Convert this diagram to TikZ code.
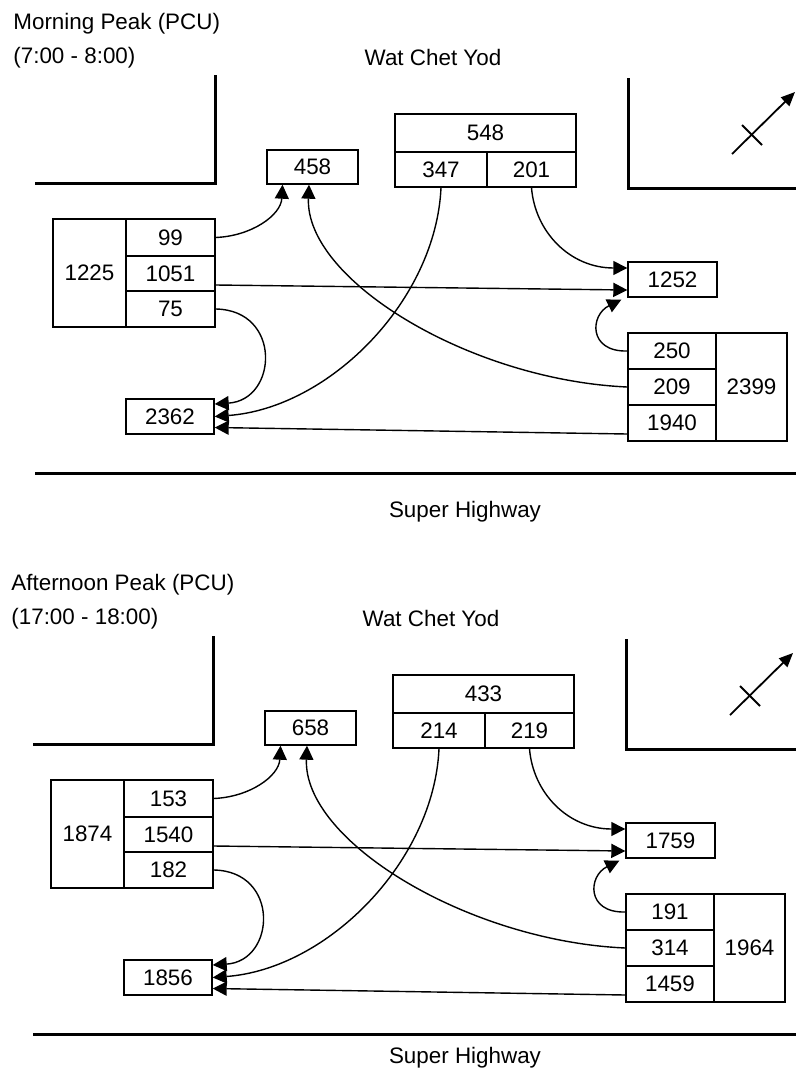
\documentclass[tikz,border=0pt]{standalone}
\usepackage{fontspec}
\setmainfont{Liberation Sans}
\usetikzlibrary{arrows.meta}
\begin{document}
\begin{tikzpicture}[x=0.5pt,y=-0.5pt,
  cell/.style={draw, line width=0.7pt, inner sep=0pt, font=\fontsize{11.2}{13}\selectfont},
  wh/.style 2 args={minimum width=#1*0.5pt, minimum height=#2*0.5pt},
  flow/.style={line width=0.7pt, -{Triangle[length=7pt,width=7pt]}},
  road/.style={line width=1.5pt},
  northarrow/.style={line width=0.9pt},
  lbl/.style={inner sep=0pt, font=\fontsize{11.2}{13}\selectfont}]
\useasboundingbox (0,0) rectangle (796,1082);

% ---------------- Morning peak ----------------
\node[lbl, anchor=base west] (t1) at (13,29) {Morning Peak (PCU)};
\node[lbl, anchor=base west] (h1) at (13,63) {(7:00 - 8:00)};
\node[lbl, anchor=base] (w1) at (433,65) {Wat Chet Yod};
\node[lbl, anchor=base] (s1) at (465,517) {Super Highway};

\draw[road] (35,183) -- (215,183) -- (215,75);
\draw[road] (628,78) -- (628,188) -- (796,188);
\draw[road] (35,473) -- (796,473);
\draw[northarrow, -{Triangle[length=7pt,width=6pt]}] (732,154) -- (795,92);
\draw[northarrow] (742,125) -- (762,145);

\node[cell, wh={91}{34}] (a458) at (312.5,167) {458};
\node[cell, wh={181}{38}] (a548) at (485.5,133) {548};
\node[cell, wh={92}{35}] (a347) at (441,169.5) {347};
\node[cell, wh={89}{35}] (a201) at (531.5,169.5) {201};
\node[cell, wh={89}{35}] (a1252) at (672.5,279.5) {1252};
\node[cell, wh={73}{108}] (a1225) at (89.5,273) {1225};
\node[cell, wh={89}{37}] (a99) at (170.5,237.5) {99};
\node[cell, wh={89}{35}] (a1051) at (170.5,273.5) {1051};
\node[cell, wh={89}{36}] (a75) at (170.5,309) {75};
\node[cell, wh={88}{35}] (a2362) at (170,416.5) {2362};
\node[cell, wh={88}{36}] (a250) at (672,351) {250};
\node[cell, wh={88}{36}] (a209) at (672,387) {209};
\node[cell, wh={88}{36}] (a1940) at (672,423) {1940};
\node[cell, wh={71}{108}] (a2399) at (751.5,387) {2399};

\draw[flow] (a99.east) .. controls (252,236) and (281,215) .. ([xshift=-15pt]a458.south);
\draw[flow] ([yshift=-5.75pt]a1051.east) -- ([yshift=-5.25pt]a1252.west);
\draw[flow] (a201.south) .. controls (535,232) and (570,268) .. ([yshift=5.75pt]a1252.west);
\draw[flow] (a347.south) .. controls (436,300) and (330,408) .. (a2362.east);
\draw[flow] (a75.east) .. controls (282,310) and (278,400) .. ([yshift=6.25pt]a2362.east);
\draw[flow] ([yshift=-5.5pt]a1940.west) -- ([yshift=-5.5pt]a2362.east);
\draw[flow] (a250.west) .. controls (588,352) and (590,315) .. ([xshift=-3pt,yshift=-1pt]a1252.south west);
\draw[flow] (a209.west) .. controls (470,380) and (305,280) .. ([xshift=-1.75pt]a458.south);

% ---------------- Afternoon peak ----------------
\begin{scope}[shift={(-2,561)}]
\node[lbl, anchor=base west] (t2) at (13,29) {Afternoon Peak (PCU)};
\node[lbl, anchor=base west] (h2) at (13,63) {(17:00 - 18:00)};
\node[lbl, anchor=base] (w2) at (433,65) {Wat Chet Yod};
\node[lbl, anchor=base] (s2) at (467,502) {Super Highway};

\draw[road] (35,183) -- (215,183) -- (215,75);
\draw[road] (628,78) -- (628,188) -- (798,188);
\draw[road] (35,473) -- (798,473);
\draw[northarrow, -{Triangle[length=7pt,width=6pt]}] (732,154) -- (795,92);
\draw[northarrow] (742,125) -- (762,145);

\node[cell, wh={91}{34}] (b658) at (312.5,167) {658};
\node[cell, wh={181}{38}] (b433) at (485.5,133) {433};
\node[cell, wh={92}{35}] (b214) at (441,169.5) {214};
\node[cell, wh={89}{35}] (b219) at (531.5,169.5) {219};
\node[cell, wh={89}{35}] (b1759) at (672.5,279.5) {1759};
\node[cell, wh={73}{108}] (b1874) at (89.5,273) {1874};
\node[cell, wh={89}{37}] (b153) at (170.5,237.5) {153};
\node[cell, wh={89}{35}] (b1540) at (170.5,273.5) {1540};
\node[cell, wh={89}{36}] (b182) at (170.5,309) {182};
\node[cell, wh={88}{35}] (b1856) at (170,416.5) {1856};
\node[cell, wh={88}{36}] (b191) at (672,351) {191};
\node[cell, wh={88}{36}] (b314) at (672,387) {314};
\node[cell, wh={88}{36}] (b1459) at (672,423) {1459};
\node[cell, wh={71}{108}] (b1964) at (751.5,387) {1964};

\draw[flow] (b153.east) .. controls (252,236) and (281,215) .. ([xshift=-15pt]b658.south);
\draw[flow] ([yshift=-5.75pt]b1540.east) -- ([yshift=-5.25pt]b1759.west);
\draw[flow] (b219.south) .. controls (535,232) and (570,268) .. ([yshift=5.75pt]b1759.west);
\draw[flow] (b214.south) .. controls (436,300) and (330,408) .. (b1856.east);
\draw[flow] (b182.east) .. controls (282,310) and (278,400) .. ([yshift=6.25pt]b1856.east);
\draw[flow] ([yshift=-5.5pt]b1459.west) -- ([yshift=-5.5pt]b1856.east);
\draw[flow] (b191.west) .. controls (588,352) and (590,315) .. ([xshift=-3pt,yshift=-1pt]b1759.south west);
\draw[flow] (b314.west) .. controls (470,380) and (305,280) .. ([xshift=-1.75pt]b658.south);
\end{scope}
\end{tikzpicture}
\end{document}
